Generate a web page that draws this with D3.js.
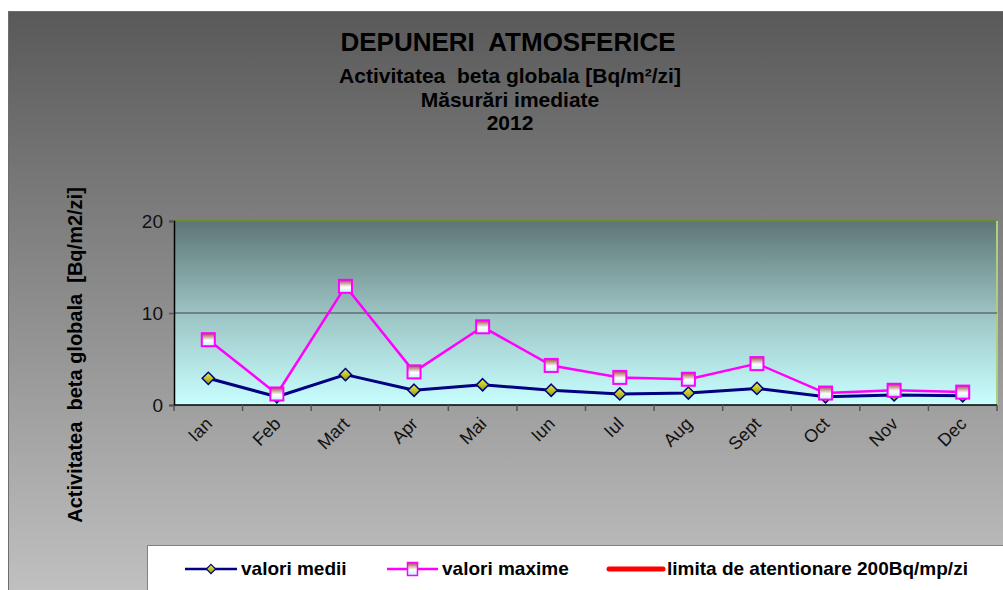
<!DOCTYPE html>
<html>
<head>
<meta charset="utf-8">
<script src="https://cdn.jsdelivr.net/npm/d3@7"></script>
<style>
  html, body { margin: 0; padding: 0; background: #fff; }
  svg { display: block; font-family: "Liberation Sans", Arial, sans-serif; }
</style>
</head>
<body>
<svg id="chart" width="1003" height="590"></svg>
<script>
// Monthly atmospheric deposition, global beta activity (Bq/m2/day), 2012
const months = ["Ian", "Feb", "Mart", "Apr", "Mai", "Iun", "Iul", "Aug", "Sept", "Oct", "Nov", "Dec"];
const meanValues = [2.9, 0.9, 3.3, 1.6, 2.2, 1.6, 1.2, 1.3, 1.8, 0.9, 1.1, 1.0];
const maxValues = [7.1, 1.2, 12.9, 3.6, 8.5, 4.3, 3.0, 2.8, 4.5, 1.3, 1.6, 1.4];
const yTicks = [0, 10, 20];
const titleLines = ["Activitatea  beta globala [Bq/m²/zi]", "Măsurări imediate", "2012"];
const legendLabels = ["valori medii", "valori maxime", "limita de atentionare 200Bq/mp/zi"];

const svg = d3.select("#chart");
const W = 1003, H = 590;
const plot = { left: 174, right: 997, top: 221, bottom: 405 };

const defs = svg.append("defs");
function linGrad(id, stops) {
  const g = defs.append("linearGradient").attr("id", id)
    .attr("x1", 0).attr("y1", 0).attr("x2", 0).attr("y2", 1);
  stops.forEach(([o, c]) => g.append("stop").attr("offset", o).attr("stop-color", c));
}
linGrad("bgGrad", [[0, "#595959"], [1, "#c2c2c2"]]);
linGrad("plotGrad", [[0, "#5e7575"], [0.5, "#9cc3c3"], [1, "#c8ffff"]]);
linGrad("diamondGrad", [[0, "#f0f040"], [1, "#8a9a10"]]);
linGrad("squareGrad", [[0, "#9a4a40"], [0.55, "#ffffff"], [1, "#c0f4f4"]]);

// chart area background
svg.append("rect").attr("x", 8.5).attr("y", 11.5).attr("width", W).attr("height", H)
  .attr("fill", "url(#bgGrad)").attr("stroke", "#6e6e6e").attr("stroke-width", 1);

// titles
svg.append("text").attr("x", 508).attr("y", 51).attr("text-anchor", "middle")
  .attr("font-size", 26).attr("font-weight", "bold").attr("fill", "#000")
  .style("white-space", "pre").text("DEPUNERI  ATMOSFERICE");
const subBase = [83, 107, 130];
titleLines.forEach((t, i) => {
  svg.append("text").attr("x", 510).attr("y", subBase[i]).attr("text-anchor", "middle")
    .attr("font-size", 21).attr("font-weight", "bold").attr("fill", "#000")
    .style("white-space", "pre").text(t);
});

// scales
const x = d3.scaleBand().domain(months).range([plot.left, plot.right]).padding(0);
const y = d3.scaleLinear().domain([0, 20]).range([plot.bottom, plot.top]);

// plot area
svg.append("rect").attr("x", plot.left).attr("y", plot.top)
  .attr("width", plot.right - plot.left).attr("height", plot.bottom - plot.top)
  .attr("fill", "url(#plotGrad)");
svg.append("line").attr("x1", plot.left).attr("x2", plot.right).attr("y1", plot.top).attr("y2", plot.top)
  .attr("stroke", "#6a8a30").attr("stroke-width", 2);
svg.append("line").attr("x1", plot.right).attr("x2", plot.right).attr("y1", plot.top).attr("y2", plot.bottom)
  .attr("stroke", "#a8d080").attr("stroke-width", 2);

// horizontal gridlines
svg.append("g").selectAll("line").data(yTicks.filter(d => d > 0 && d < 20)).join("line")
  .attr("x1", plot.left).attr("x2", plot.right)
  .attr("y1", d => y(d)).attr("y2", d => y(d))
  .attr("stroke", "#5f6f6f").attr("stroke-width", 1.5);

// y axis
const yAxis = svg.append("g").attr("transform", `translate(${plot.left},0)`)
  .call(d3.axisLeft(y).tickValues(yTicks).tickSize(5).tickPadding(6));
yAxis.select(".domain").attr("stroke", "#000").attr("stroke-width", 1.5);
yAxis.selectAll(".tick line").attr("stroke", "#555").attr("stroke-width", 1.5);
yAxis.selectAll(".tick text").attr("font-size", 19).attr("fill", "#111")
  .attr("font-family", "Liberation Sans, Arial, sans-serif");

// x axis with ticks at category boundaries
const xAxis = svg.append("g").attr("transform", `translate(0,${plot.bottom})`);
xAxis.append("line").attr("x1", plot.left).attr("x2", plot.right).attr("y1", 0).attr("y2", 0)
  .attr("stroke", "#000").attr("stroke-width", 1.5);
const bounds = months.map(m => x(m)).concat([x(months[months.length - 1]) + x.bandwidth()]);
xAxis.selectAll("line.tk").data(bounds).join("line").attr("class", "tk")
  .attr("x1", d => d).attr("x2", d => d).attr("y1", 0).attr("y2", 6)
  .attr("stroke", "#555").attr("stroke-width", 1.5);
xAxis.selectAll("text").data(months).join("text")
  .attr("transform", d => `translate(${x(d) + x.bandwidth() / 2 + 5},${20}) rotate(-45)`)
  .attr("text-anchor", "end").attr("font-size", 18).attr("fill", "#111")
  .text(d => d);

// y axis title
svg.append("text").attr("transform", "translate(82,355) rotate(-90)")
  .attr("text-anchor", "middle").attr("font-size", 20).attr("font-weight", "bold").attr("fill", "#000")
  .style("white-space", "pre").text("Activitatea  beta globala  [Bq/m2/zi]");

// series
const cx = d => x(d) + x.bandwidth() / 2;
const line = d3.line().x(d => cx(d[0])).y(d => y(d[1]));
const meanPts = months.map((m, i) => [m, meanValues[i]]);
const maxPts = months.map((m, i) => [m, maxValues[i]]);

svg.append("path").datum(meanPts).attr("d", line)
  .attr("fill", "none").attr("stroke", "#000080").attr("stroke-width", 3).attr("stroke-linejoin", "round");
svg.append("g").selectAll("path").data(meanPts).join("path")
  .attr("d", d3.symbol(d3.symbolDiamond2, 95))
  .attr("transform", d => `translate(${cx(d[0])},${y(d[1])})`)
  .attr("fill", "url(#diamondGrad)").attr("stroke", "#000080").attr("stroke-width", 1.5);

svg.append("path").datum(maxPts).attr("d", line)
  .attr("fill", "none").attr("stroke", "#ff00ff").attr("stroke-width", 2.5).attr("stroke-linejoin", "round");
svg.append("g").selectAll("rect").data(maxPts).join("rect")
  .attr("x", d => cx(d[0]) - 6.5).attr("y", d => y(d[1]) - 6.5)
  .attr("width", 13).attr("height", 13)
  .attr("fill", "url(#squareGrad)").attr("stroke", "#ff00ff").attr("stroke-width", 2);

// legend
const lg = svg.append("g");
lg.append("rect").attr("x", 147.5).attr("y", 545.5).attr("width", 870).attr("height", 60)
  .attr("fill", "#fff").attr("stroke", "#808080").attr("stroke-width", 1);
const ly = 569;
const items = [
  { x1: 185, x2: 237, tx: 241, color: "#000080", w: 2.5, marker: "diamond" },
  { x1: 387, x2: 438, tx: 442, color: "#ff00ff", w: 2.5, marker: "square" },
  { x1: 609, x2: 663, tx: 667, color: "#ff0000", w: 5, marker: null }
];
items.forEach((it, i) => {
  lg.append("line").attr("x1", it.x1).attr("x2", it.x2).attr("y1", ly).attr("y2", ly)
    .attr("stroke", it.color).attr("stroke-width", it.w).attr("stroke-linecap", it.marker ? "butt" : "round");
  const mx = (it.x1 + it.x2) / 2;
  if (it.marker === "diamond") {
    lg.append("path").attr("d", d3.symbol(d3.symbolDiamond2, 55))
      .attr("transform", `translate(${mx},${ly})`)
      .attr("fill", "url(#diamondGrad)").attr("stroke", "#000080").attr("stroke-width", 1.2);
  } else if (it.marker === "square") {
    lg.append("rect").attr("x", mx - 5).attr("y", ly - 6.5).attr("width", 10).attr("height", 13)
      .attr("fill", "url(#squareGrad)").attr("stroke", "#ff00ff").attr("stroke-width", 1.5);
  }
  lg.append("text").attr("x", it.tx).attr("y", ly + 6).attr("font-size", 19).attr("font-weight", "bold")
    .attr("fill", "#000").text(legendLabels[i]);
});
</script>
</body>
</html>
